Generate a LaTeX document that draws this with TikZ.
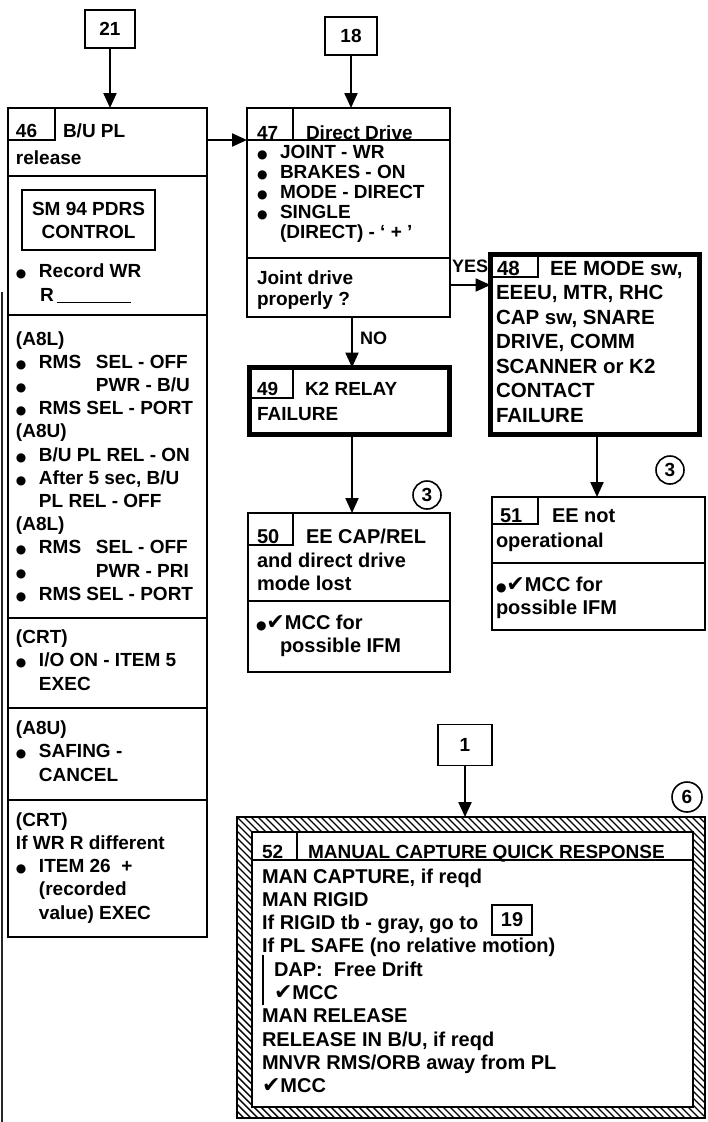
\documentclass[tikz,border=0pt]{standalone}
\usepackage{fontspec}
\setmainfont{Liberation Sans}
\newfontfamily\djv{DejaVu Sans}
\usetikzlibrary{arrows.meta}
\newcommand\bul{\makebox[23pt][l]{{\djv\fontsize{12}{12}\selectfont ●}}}
\newcommand\sbul{{\djv\fontsize{12}{12}\selectfont ●}}
\newcommand\chk{{\djv\fontsize{22}{22}\selectfont ✔}}
\newcommand\lns[2]{\vtop{\baselineskip=#1pt\lineskiplimit=-50pt\lineskip=0pt\halign{##\hfil\cr#2\crcr}}}
\begin{document}
\begin{tikzpicture}[x=1pt,y=-1pt,
  every node/.style={font=\fontsize{19}{23}\selectfont\bfseries},
  box/.style={draw, line width=1.8pt, rectangle, inner sep=0pt, outer sep=0pt, anchor=north west},
  heavy/.style={box, line width=5pt},
  txt/.style={anchor=base west, inner sep=0pt, outer sep=0pt},
  ref/.style={draw, line width=1.8pt, rectangle, inner sep=0pt, outer sep=0pt, minimum width=50pt, minimum height=38pt},
  conn/.style={circle, draw, line width=1.6pt, inner sep=0pt, outer sep=0pt, minimum size=28pt},
  arr/.style={line width=2.2pt, -{Triangle[length=15pt,width=13pt]}},
  thinl/.style={line width=1.5pt}]
\useasboundingbox (0,0) rectangle (707,1122);
% page edge line
\draw[line width=1.4pt, black!85] (2,292) -- (2,1122);

% ---------- reference boxes ----------
\node[ref] (b21) at (110,29) {21};
\node[ref, minimum width=52pt] (b18) at (351,36) {18};

% ---------- box 46 ----------
\node[box, minimum width=199pt, minimum height=829pt] (b46) at (8,108) {};
\draw[thinl] (8,140) -| (55,108);
\draw[thinl] (8,176) -- (207,176);
\node[txt] (t46n) at (16,137) {46};
\node[txt] (t46t) at (63,137) {B/U PL};
\node[txt] (t46r) at (16,164) {release};
\node[box, minimum width=133pt, minimum height=60pt, align=center] (sm94) at (22,190) {SM 94 PDRS\\CONTROL};
\node[txt] (t46rec) at (16,277) {\bul Record WR};
\node[txt] (t46R) at (40,301) {R\hspace{3pt}\rule[-2pt]{74pt}{1.3pt}};
\draw[thinl] (8,315) -- (207,315);
\node[txt] (t46a) at (16,345) {\lns{23.2}{(A8L)\cr
\bul\makebox[57pt][l]{RMS}SEL - OFF\cr
\bul\hspace*{57pt}PWR - B/U\cr
\bul RMS SEL - PORT\cr
(A8U)\cr
\bul B/U PL REL - ON\cr
\bul After 5 sec, B/U\cr
\hspace*{23pt}PL REL - OFF\cr
(A8L)\cr
\bul\makebox[57pt][l]{RMS}SEL - OFF\cr
\bul\hspace*{57pt}PWR - PRI\cr
\bul RMS SEL - PORT}};
\draw[thinl] (8,618) -- (207,618);
\node[txt] (t46b) at (16,643) {\lns{23.5}{(CRT)\cr \bul I/O ON - ITEM 5\cr \hspace*{23pt}EXEC}};
\draw[thinl] (8,708) -- (207,708);
\node[txt] (t46c) at (16,734) {\lns{23.5}{(A8U)\cr \bul SAFING -\cr \hspace*{23pt}CANCEL}};
\draw[thinl] (8,800) -- (207,800);
\node[txt] (t46d) at (16,826) {\lns{23.3}{(CRT)\cr If WR R different\cr \bul ITEM 26 \ +\cr \hspace*{23pt}(recorded\cr \hspace*{23pt}value) EXEC}};

% ---------- box 47 ----------
\node[box, minimum width=203pt, minimum height=209pt] (b47) at (247,108) {};
\node[txt] (t47n) at (257,139) {47};
\node[txt] (t47t) at (306,139) {Direct Drive};
\draw[thinl] (247,140) -- (450,140);
\draw[thinl] (293,108) -- (293,140);
\node[txt] (t47a) at (257,158) {\lns{20}{\bul JOINT - WR\cr \bul BRAKES - ON\cr \bul MODE - DIRECT\cr \bul SINGLE\cr \hspace*{23pt}(DIRECT) - ‘ + ’}};
\draw[thinl] (247,258) -- (450,258);
\node[txt] (t47b) at (257,284) {\lns{21}{Joint drive\cr properly ?}};

% ---------- box 48 ----------
\node[heavy, minimum width=209pt, minimum height=180pt] (b48) at (490.5,254.5) {};
\draw[thinl] (490.5,277) -| (538,254.5);
\begin{scope}[every node/.style={font=\fontsize{20.5}{24.5}\selectfont\bfseries}]
\node[txt] (t48n) at (497,275) {48};
\node[txt] (t48t) at (550,275) {EE MODE sw,};
\node[txt] (t48a) at (496,299.5) {\lns{24.5}{EEEU, MTR, RHC\cr CAP sw, SNARE\cr DRIVE, COMM\cr SCANNER or K2\cr CONTACT\cr FAILURE}};
\end{scope}

% ---------- box 49 ----------
\node[heavy, minimum width=200pt, minimum height=67pt] (b49) at (249.5,367.5) {};
\draw[thinl] (249.5,398) -| (293,367.5);
\node[txt] (t49n) at (257,395) {49};
\node[txt] (t49t) at (305,395) {K2 RELAY};
\node[txt] (t49f) at (257,420) {FAILURE};

% ---------- box 50 ----------
\node[box, minimum width=202pt, minimum height=159pt] (b50) at (248,513) {};
\draw[thinl] (248,545) -| (293,513);
\draw[thinl] (248,601) -- (450,601);
\begin{scope}[every node/.style={font=\fontsize{20}{23}\selectfont\bfseries}]
\node[txt] (t50n) at (257,543) {50};
\node[txt] (t50t) at (306,543) {EE CAP/REL};
\node[txt] (t50a) at (257,567) {\lns{23}{and direct drive\cr mode lost}};
\node[txt] (t50b) at (256,629) {\lns{23}{\sbul\chk MCC for\cr \hspace*{24pt}possible IFM}};
\end{scope}

% ---------- box 51 ----------
\node[box, minimum width=213pt, minimum height=133pt] (b51) at (492,497) {};
\draw[thinl] (492,524) -| (538,497);
\draw[thinl] (492,563) -- (705,563);
\begin{scope}[every node/.style={font=\fontsize{20}{23}\selectfont\bfseries}]
\node[txt] (t51n) at (500,522) {51};
\node[txt] (t51t) at (552,522) {EE not};
\node[txt] (t51a) at (496,547) {operational};
\node[txt] (t51b) at (496,591) {\lns{23}{\sbul\chk MCC for\cr possible IFM}};
\end{scope}

% ---------- connector circles ----------
\node[conn] (c3a) at (427,495) {3};
\node[conn] (c3b) at (670,470) {3};
\node[conn, minimum size=30pt] (c6) at (687,797) {6};

% ---------- box 1 and 52 ----------
\node[ref, minimum width=54pt, minimum height=41pt] (b1) at (465,745) {1};
\begin{scope}
\clip (237,817) rectangle (705,1118);
\foreach \i in {0,7,...,784} \draw[line width=1.4pt] (237-301+\i,817) -- ++(301,301);
\end{scope}
\node[box, minimum width=468pt, minimum height=301pt] (b52o) at (237,817) {};
\node[box, fill=white, minimum width=441pt, minimum height=275pt] (b52) at (252,832) {};
\node[txt] (t52n) at (262,858) {52};
\node[txt] (t52t) at (308,858) {MANUAL CAPTURE QUICK RESPONSE};
\draw[thinl] (252,860) -- (693,860);
\draw[thinl] (297,832) -- (297,860);
\node[txt, font=\fontsize{20}{23}\selectfont\bfseries] (t52a) at (262,883) {\lns{23.3}{MAN CAPTURE, if reqd\cr
MAN RIGID\cr
If RIGID tb - gray, go to\cr
If PL SAFE (no relative motion)\cr
\hspace*{12pt}DAP:\ \ Free Drift\cr
\hspace*{12pt}\chk MCC\cr
MAN RELEASE\cr
RELEASE IN B/U, if reqd\cr
MNVR RMS/ORB away from PL\cr
\chk MCC}};
\node[box, anchor=center, minimum width=40pt, minimum height=30pt, font=\fontsize{20}{23}\selectfont\bfseries] (b19) at (512,920) {19};
\draw[line width=2pt] (263,955) -- (263,1005);

% ---------- connectors ----------
\draw[arr] (b21.south) -- (b21.south |- b46.north);
\draw[arr] (b18.south) -- (b18.south |- b47.north);
\coordinate (y46) at (0,140);
\draw[arr] (b46.east |- y46) -- (b47.west |- y46);
\coordinate (yyes) at (0,285);
\draw[arr] (b47.east |- yyes) -- (b48.west |- yyes);
\node[txt, font=\fontsize{18}{20}\selectfont\bfseries] (lyes) at (452,272) {YES};
\coordinate (xno) at (352,0);
\draw[arr] (b47.south -| xno) -- (b49.north -| xno);
\node[txt, font=\fontsize{18}{20}\selectfont\bfseries] (lno) at (360,344) {NO};
\draw[arr] (b49.south -| xno) -- (b50.north -| xno);
\coordinate (x48) at (597,0);
\draw[arr] (b48.south -| x48) -- (b51.north -| x48);
\draw[arr] (b1.south) -- (b1.south |- b52o.north);
\end{tikzpicture}
\end{document}
